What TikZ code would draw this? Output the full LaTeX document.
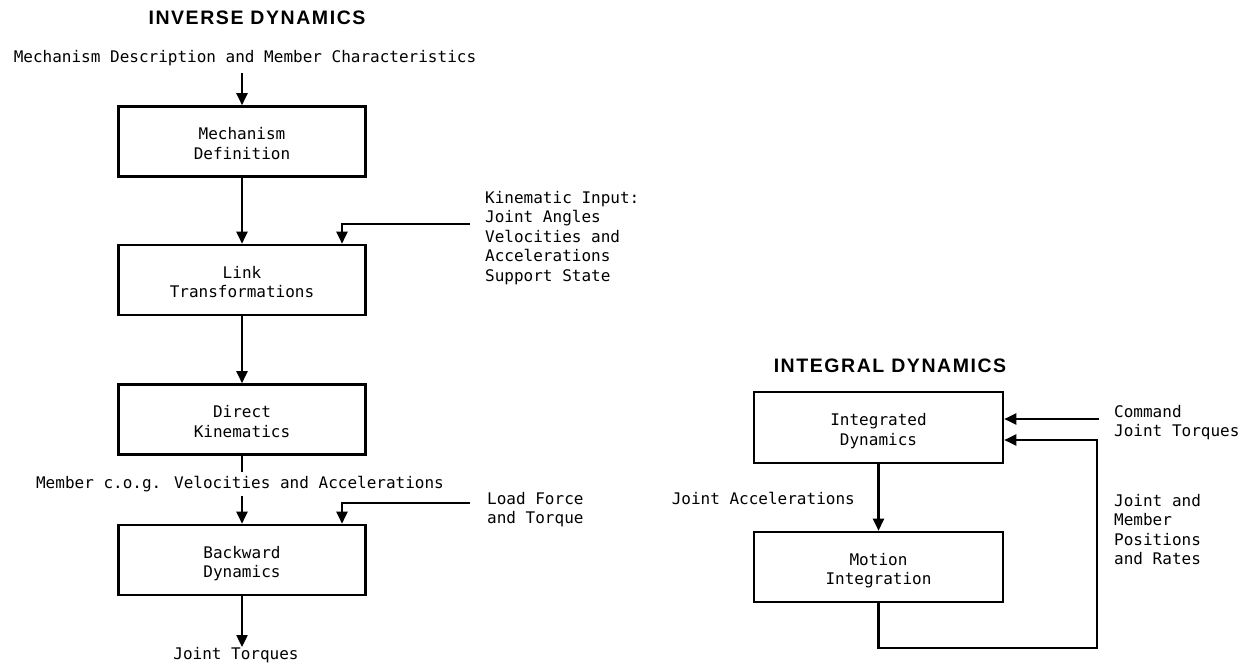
\documentclass[tikz,border=0pt]{standalone}
\usepackage{fontspec}
\newfontfamily\monof{DejaVu Sans Mono}
\newfontfamily\titlef[LetterSpace=8]{Liberation Sans}
\usetikzlibrary{arrows.meta}
\newcommand\bxtext[2]{\raisebox{-4pt}[\height][\depth]{\begin{tabular}{@{}c@{}}#1\\#2\end{tabular}}}
\begin{document}
\begin{tikzpicture}[x=1pt,y=-1pt,
  box/.style={draw, line width=2.6pt, minimum width=247pt, minimum height=70pt, inner sep=0pt,
    font=\monof\fontsize{16}{19.5}\selectfont},
  lbl/.style={font=\monof\fontsize{16}{19.5}\selectfont, inner sep=0pt},
  ttl/.style={font=\titlef\bfseries\fontsize{19.5}{22}\selectfont, inner sep=0pt},
  arr/.style={line width=2.2pt, -{Triangle[length=12pt,width=11pt]}}]
\useasboundingbox (0,0) rectangle (1253,667);
\fill[white] (0,0) rectangle (1253,667);

% ---- Inverse dynamics ----
\node[ttl] (t1) at (257,18) {INVERSE DYNAMICS};
\node[lbl] (mdesc) at (245,58) {Mechanism Description and Member Characteristics};
\node[box] (b1) at (242,141.5) {\bxtext{Mechanism}{Definition}};
\node[box] (b2) at (242,280) {\bxtext{Link}{Transformations}};
\node[box] (b3) at (242,419.5) {\bxtext{Direct}{Kinematics}};
\node[box] (b4) at (242,560) {\bxtext{Backward}{Dynamics}};

\draw[arr, shorten <=7pt] (mdesc.south -| b1.north) -- (b1.north);
\draw[arr] (b1) -- (b2);
\draw[arr] (b2) -- (b3);
\draw[arr] (b3) -- (b4);
\node[lbl, fill=white, inner xsep=2pt, inner ysep=4pt] (mem) at (240,484) {Member c.o.g. Velocities and Accelerations};

\coordinate (k1) at (470,224);
\draw[arr] (k1) -| ([xshift=100pt]b2.north);
\node[lbl, anchor=north west, align=left] (kin) at (485,191) {Kinematic Input:\\Joint Angles\\Velocities and\\Accelerations\\Support State};

\coordinate (l1) at (470,503);
\draw[arr] (l1) -| ([xshift=100pt]b4.north);
\node[lbl, anchor=north west, align=left] (load) at (487,492) {Load Force\\and Torque};

\node[lbl] (jt) at (236,655) {Joint Torques};
\draw[arr] (b4.south) -- (b4.south |- jt.north);

% ---- Integral dynamics ----
\node[ttl] (t2) at (890,366) {INTEGRAL DYNAMICS};
\node[box, minimum width=249pt, minimum height=71pt] (i1) at (878.5,427.5) {\bxtext{Integrated}{Dynamics}};
\node[box, minimum width=249pt] (m1) at (878.5,567) {\bxtext{Motion}{Integration}};
\draw[arr] (i1) -- (m1);
\node[lbl, anchor=east] (ja) at (855,498) {Joint Accelerations};

\coordinate (c1) at (1099,419);
\draw[arr] (c1) -- (c1 -| i1.east);
\node[lbl, anchor=north west, align=left] (cmd) at (1114,405) {Command\\Joint Torques};

\coordinate (fb1) at (878.5,648);
\coordinate (fb2) at (1097,648);
\draw[arr] (m1.south) -- (fb1) -- (fb2) |- ([yshift=-12.5pt]i1.east);
\node[lbl, anchor=north west, align=left] (jm) at (1114,494) {Joint and\\Member\\Positions\\and Rates};
\end{tikzpicture}
\end{document}
